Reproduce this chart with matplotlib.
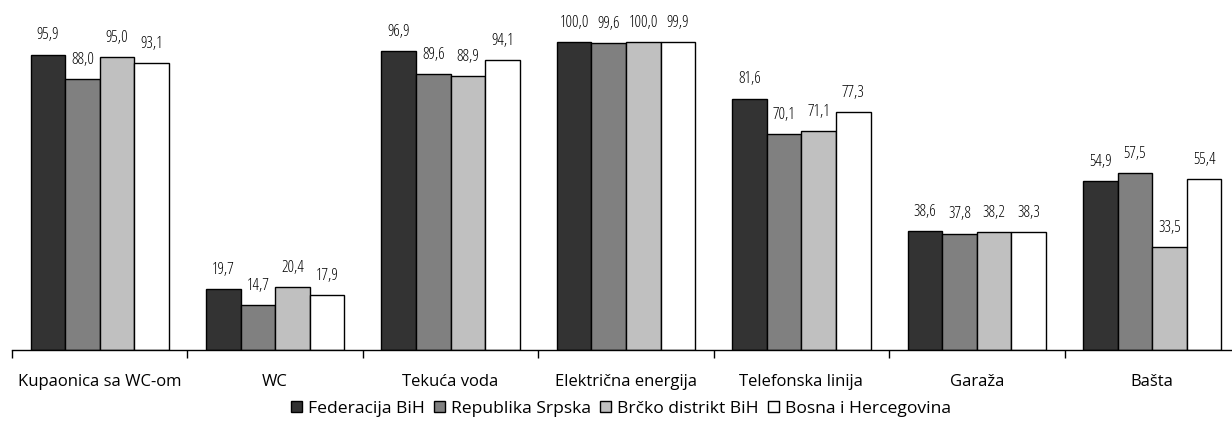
import matplotlib
matplotlib.use("Agg")
import matplotlib.pyplot as plt
import numpy as np

categories = ["Kupaonica sa WC-om", "WC", "Tekuća voda", "Električna energija",
              "Telefonska linija", "Garaža", "Bašta"]
series_names = ["Federacija BiH", "Republika Srpska", "Brčko distrikt BiH", "Bosna i Hercegovina"]
fbih = [95.9, 19.7, 96.9, 100.0, 81.6, 38.6, 54.9]
rs = [88.0, 14.7, 89.6, 99.6, 70.1, 37.8, 57.5]
brcko = [95.0, 20.4, 88.9, 100.0, 71.1, 38.2, 33.5]
bih = [93.1, 17.9, 94.1, 99.9, 77.3, 38.3, 55.4]
colors = ["#333333", "#808080", "#c0c0c0", "#ffffff"]

plt.rcParams['font.family'] = ['Open Sans', 'DejaVu Sans']

fig = plt.figure(figsize=(12.32, 4.26), dpi=100)
W, H = 1232, 426
x0, x1 = 12, 1240
ax = fig.add_axes([x0 / W, (H - 350) / H, (x1 - x0) / W, 350 / H])

x = np.arange(len(categories))
w = 0.197
data = [fbih, rs, brcko, bih]
for i, (vals, c, name) in enumerate(zip(data, colors, series_names)):
    pos = x + (i - 1.5) * w
    bars = ax.bar(pos, vals, w, color=c, edgecolor="black", linewidth=1.0, label=name)
    for b, v in zip(bars, vals):
        ax.annotate(f"{v:.1f}".replace(".", ","), (b.get_x() + b.get_width() / 2, v),
                    xytext=(0, 8), textcoords="offset points", ha="center", va="bottom",
                    fontsize=11.6, fontstretch="condensed")

ax.set_xlim(-0.5, len(categories) - 0.5)
ax.set_ylim(0, 113.6)
for s in ["top", "right", "left"]:
    ax.spines[s].set_visible(False)
ax.spines["bottom"].set_linewidth(1.0)
ax.set_yticks([])
ax.set_xticks(x)
ax.set_xticklabels(categories, fontsize=12)
ax.tick_params(axis="x", which="major", length=0, pad=17)
ax.set_xticks(np.arange(-0.5, len(categories)), minor=True)
ax.tick_params(axis="x", which="minor", length=6, width=1, direction="out")

fig.legend(loc="center", bbox_to_anchor=(621 / W, 1 - 409 / H), ncol=4, frameon=False,
           fontsize=12.6, handlelength=0.6, handleheight=0.6, handletextpad=0.35,
           columnspacing=0.55, borderpad=0)

fig.savefig("out.png", dpi=100)
